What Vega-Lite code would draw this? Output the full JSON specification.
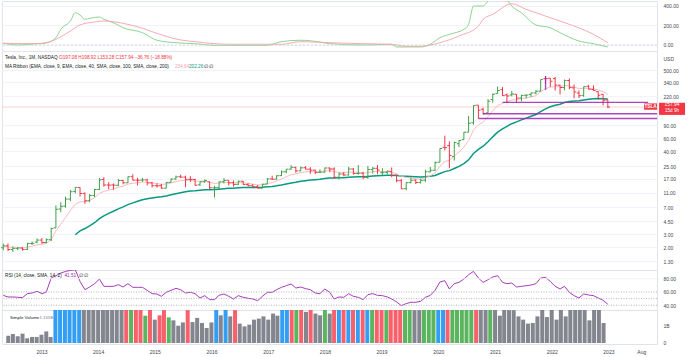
{
"$schema":"https://vega.github.io/schema/vega-lite/v6.json",
"padding":0,"spacing":0,"bounds":"flush","background":"white",
"resolve":{"scale":{"color":"independent"}},
"config":{"view":{"stroke":"#e0e3eb","strokeWidth":1},
"axis":{"labelFont":"Liberation Sans","labelFontSize":5,"labelColor":"#434651","domain":false,"ticks":false,"labelPadding":6,"title":null,"labelOverlap":false},
"text":{"font":"Liberation Sans","fontSize":4.7,"align":"left","baseline":"middle"}},
"datasets":{
"one":[{}],
"m":[
{"d":"2012-06-01","o":1.97,"h":2.25,"l":1.82,"c":2.09,"e9":2.05,"rsi":55,"vol":0.42,"kind":"base"},
{"d":"2012-07-01","o":2.09,"h":2.25,"l":1.78,"c":1.86,"e9":2.01,"rsi":52.5,"vol":0.52,"kind":"base"},
{"d":"2012-08-01","o":1.86,"h":2.05,"l":1.73,"c":1.93,"e9":2.0,"rsi":52.5,"vol":0.39,"kind":"base"},
{"d":"2012-09-01","o":1.93,"h":2.0,"l":1.82,"c":1.95,"e9":1.99,"rsi":52,"vol":0.54,"kind":"base"},
{"d":"2012-10-01","o":1.95,"h":2.0,"l":1.8,"c":1.87,"e9":1.96,"rsi":51.5,"vol":0.27,"kind":"base"},
{"d":"2012-11-01","o":1.87,"h":2.3,"l":1.84,"c":2.25,"e9":2.02,"rsi":57.5,"vol":0.35,"kind":"base"},
{"d":"2012-12-01","o":2.25,"h":2.4,"l":2.15,"c":2.26,"e9":2.07,"rsi":58.5,"vol":0.35,"kind":"base"},
{"d":"2013-01-01","o":2.35,"h":2.63,"l":2.26,"c":2.5,"e9":2.15,"rsi":61,"vol":0.48,"kind":"base"},
{"d":"2013-02-01","o":2.5,"h":2.67,"l":2.23,"c":2.32,"e9":2.19,"rsi":57.5,"vol":0.67,"kind":"base"},
{"d":"2013-03-01","o":2.32,"h":2.63,"l":2.26,"c":2.53,"e9":2.26,"rsi":60,"vol":0.35,"kind":"base"},
{"d":"2013-04-01","o":2.53,"h":3.67,"l":2.43,"c":3.59,"e9":2.52,"rsi":81,"vol":3.0,"kind":"alert"},
{"d":"2013-05-01","o":3.66,"h":7.35,"l":3.64,"c":6.52,"e9":3.32,"rsi":84.5,"vol":8.0,"kind":"alert"},
{"d":"2013-06-01","o":6.6,"h":8.14,"l":5.95,"c":7.16,"e9":4.09,"rsi":88.5,"vol":5.0,"kind":"alert"},
{"d":"2013-07-01","o":7.21,"h":9.64,"l":6.85,"c":8.95,"e9":5.06,"rsi":91,"vol":5.5,"kind":"alert"},
{"d":"2013-08-01","o":8.97,"h":11.87,"l":8.4,"c":11.27,"e9":6.3,"rsi":92.5,"vol":6.0,"kind":"alert"},
{"d":"2013-09-01","o":11.4,"h":12.97,"l":10.7,"c":12.9,"e9":7.62,"e40":2.95,"rsi":93.5,"vol":6.5,"kind":"alert"},
{"d":"2013-10-01","o":12.9,"h":12.99,"l":9.7,"c":10.66,"e9":8.23,"e40":3.33,"rsi":76,"vol":6.0,"kind":"base"},
{"d":"2013-11-01","o":10.7,"h":11.0,"l":7.73,"c":8.49,"e9":8.28,"e40":3.58,"rsi":63.5,"vol":4.5,"kind":"base"},
{"d":"2013-12-01","o":8.5,"h":10.5,"l":8.13,"c":10.03,"e9":8.63,"e40":3.89,"rsi":67.5,"vol":3.0,"kind":"base"},
{"d":"2014-01-01","o":10.0,"h":12.35,"l":9.5,"c":12.09,"e9":9.32,"e40":4.29,"rsi":72.5,"vol":3.5,"kind":"base"},
{"d":"2014-02-01","o":12.1,"h":17.3,"l":11.9,"c":16.32,"e9":10.72,"e40":4.88,"rsi":79.5,"vol":6.0,"kind":"base"},
{"d":"2014-03-01","o":16.5,"h":17.7,"l":13.2,"c":13.9,"e9":11.36,"e40":5.32,"rsi":68.5,"vol":5.5,"kind":"base"},
{"d":"2014-04-01","o":13.9,"h":15.2,"l":12.2,"c":13.86,"e9":11.86,"e40":5.74,"rsi":68.5,"vol":4.0,"kind":"base"},
{"d":"2014-05-01","o":13.9,"h":14.6,"l":12.0,"c":13.85,"e9":12.26,"e40":6.13,"rsi":68.5,"vol":3.0,"kind":"base"},
{"d":"2014-06-01","o":13.8,"h":16.8,"l":13.4,"c":16.0,"e9":13.0,"e40":6.61,"rsi":71,"vol":2.5,"kind":"base"},
{"d":"2014-07-01","o":16.0,"h":16.3,"l":14.2,"c":14.89,"e9":13.38,"e40":7.02,"rsi":67.5,"vol":2.2,"kind":"down"},
{"d":"2014-08-01","o":14.9,"h":18.2,"l":14.8,"c":17.98,"e9":14.3,"e40":7.55,"rsi":72.5,"vol":2.0,"kind":"up"},
{"d":"2014-09-01","o":18.0,"h":19.44,"l":16.0,"c":16.18,"e9":14.68,"e40":7.97,"rsi":67,"vol":2.6,"kind":"down"},
{"d":"2014-10-01","o":16.2,"h":17.4,"l":13.7,"c":16.11,"e9":14.96,"e40":8.37,"rsi":67,"vol":2.5,"kind":"down"},
{"d":"2014-11-01","o":16.2,"h":17.4,"l":15.4,"c":16.3,"e9":15.23,"e40":8.76,"rsi":67,"vol":1.58,"kind":"up"},
{"d":"2014-12-01","o":16.3,"h":16.9,"l":13.7,"c":14.83,"e9":15.15,"e40":9.05,"rsi":62.5,"vol":2.0,"kind":"down"},
{"d":"2015-01-01","o":14.86,"h":15.3,"l":12.9,"c":13.57,"e9":14.84,"e40":9.27,"rsi":57.5,"vol":1.35,"kind":"base"},
{"d":"2015-02-01","o":13.6,"h":14.6,"l":12.8,"c":13.55,"e9":14.58,"e40":9.48,"rsi":57,"vol":1.6,"kind":"down"},
{"d":"2015-03-01","o":13.6,"h":14.4,"l":12.3,"c":12.58,"e9":14.18,"e40":9.63,"rsi":53.5,"vol":1.9,"kind":"down"},
{"d":"2015-04-01","o":12.6,"h":15.3,"l":12.5,"c":15.07,"e9":14.36,"e40":9.9,"rsi":59.5,"vol":1.48,"kind":"up"},
{"d":"2015-05-01","o":15.1,"h":17.0,"l":15.0,"c":16.72,"e9":14.83,"e40":10.23,"rsi":62.5,"vol":1.31,"kind":"base"},
{"d":"2015-06-01","o":16.8,"h":18.6,"l":16.4,"c":17.89,"e9":15.44,"e40":10.61,"rsi":65.5,"vol":1.0,"kind":"base"},
{"d":"2015-07-01","o":18.0,"h":19.2,"l":17.4,"c":17.75,"e9":15.9,"e40":10.95,"rsi":63.5,"vol":1.19,"kind":"base"},
{"d":"2015-08-01","o":17.8,"h":18.6,"l":13.0,"c":16.61,"e9":16.04,"e40":11.23,"rsi":58.5,"vol":1.9,"kind":"down"},
{"d":"2015-09-01","o":16.6,"h":18.3,"l":15.3,"c":16.56,"e9":16.15,"e40":11.49,"rsi":59.5,"vol":1.21,"kind":"base"},
{"d":"2015-10-01","o":16.5,"h":16.9,"l":13.6,"c":13.8,"e9":15.68,"e40":11.6,"rsi":57.5,"vol":1.45,"kind":"base"},
{"d":"2015-11-01","o":14.0,"h":15.5,"l":13.5,"c":15.35,"e9":15.61,"e40":11.79,"rsi":51,"vol":1.16,"kind":"base"},
{"d":"2015-12-01","o":15.4,"h":16.5,"l":14.8,"c":16.0,"e9":15.69,"e40":11.99,"rsi":54.5,"vol":0.87,"kind":"base"},
{"d":"2016-01-01","o":15.4,"h":15.4,"l":12.3,"c":12.75,"e9":15.1,"e40":12.03,"rsi":48.5,"vol":1.19,"kind":"base"},
{"d":"2016-02-01","o":12.7,"h":13.6,"l":9.4,"c":12.79,"e9":14.64,"e40":12.07,"rsi":48.5,"vol":2.2,"kind":"alert"},
{"d":"2016-03-01","o":12.8,"h":15.6,"l":12.3,"c":15.32,"e9":14.78,"e40":12.22,"rsi":55,"vol":1.6,"kind":"base"},
{"d":"2016-04-01","o":15.4,"h":17.2,"l":14.6,"c":16.05,"e9":15.03,"e40":12.41,"rsi":57,"vol":2.0,"kind":"alert"},
{"d":"2016-05-01","o":16.1,"h":16.1,"l":13.7,"c":14.88,"e9":15.0,"e40":12.53,"rsi":53.5,"vol":1.54,"kind":"base"},
{"d":"2016-06-01","o":14.9,"h":16.0,"l":13.2,"c":14.15,"e9":14.83,"e40":12.61,"rsi":49.5,"vol":1.9,"kind":"down"},
{"d":"2016-07-01","o":14.2,"h":15.9,"l":13.9,"c":15.65,"e9":15.0,"e40":12.76,"rsi":54.5,"vol":1.12,"kind":"base"},
{"d":"2016-08-01","o":15.6,"h":15.8,"l":14.0,"c":14.13,"e9":14.82,"e40":12.83,"rsi":52,"vol":0.96,"kind":"base"},
{"d":"2016-09-01","o":14.1,"h":14.7,"l":13.3,"c":13.6,"e9":14.58,"e40":12.86,"rsi":50.5,"vol":1.06,"kind":"base"},
{"d":"2016-10-01","o":13.6,"h":14.3,"l":13.0,"c":13.18,"e9":14.3,"e40":12.88,"rsi":49.5,"vol":1.35,"kind":"base"},
{"d":"2016-11-01","o":13.2,"h":13.9,"l":12.5,"c":12.63,"e9":13.96,"e40":12.87,"rsi":47,"vol":1.41,"kind":"base"},
{"d":"2016-12-01","o":12.6,"h":14.5,"l":12.5,"c":14.25,"e9":14.02,"e40":12.93,"rsi":53.5,"vol":1.54,"kind":"base"},
{"d":"2017-01-01","o":14.3,"h":17.3,"l":14.2,"c":16.79,"e9":14.58,"e40":13.12,"rsi":59.5,"vol":1.35,"kind":"base"},
{"d":"2017-02-01","o":16.8,"h":18.6,"l":16.4,"c":16.67,"e9":14.99,"e40":13.3,"rsi":59.5,"vol":1.7,"kind":"base"},
{"d":"2017-03-01","o":16.7,"h":18.8,"l":16.4,"c":18.55,"e9":15.71,"e40":13.55,"rsi":63.5,"vol":1.58,"kind":"base"},
{"d":"2017-04-01","o":18.6,"h":21.9,"l":18.4,"c":20.93,"e9":16.75,"e40":13.91,"rsi":67,"vol":2.0,"kind":"alert"},
{"d":"2017-05-01","o":21.0,"h":22.9,"l":20.1,"c":22.73,"e9":17.95,"e40":14.34,"rsi":69.5,"vol":2.2,"kind":"alert"},
{"d":"2017-06-01","o":22.8,"h":25.9,"l":22.5,"c":24.11,"e9":19.18,"e40":14.82,"rsi":72,"vol":2.5,"kind":"down"},
{"d":"2017-07-01","o":24.1,"h":24.6,"l":20.4,"c":21.57,"e9":19.66,"e40":15.15,"rsi":66,"vol":2.0,"kind":"up"},
{"d":"2017-08-01","o":21.6,"h":24.7,"l":21.4,"c":23.73,"e9":20.47,"e40":15.57,"rsi":67.5,"vol":2.2,"kind":"down"},
{"d":"2017-09-01","o":23.8,"h":25.1,"l":22.6,"c":22.74,"e9":20.93,"e40":15.92,"rsi":65,"vol":1.8,"kind":"base"},
{"d":"2017-10-01","o":22.8,"h":24.2,"l":19.8,"c":22.1,"e9":21.16,"e40":16.22,"rsi":63.5,"vol":2.0,"kind":"down"},
{"d":"2017-11-01","o":22.1,"h":22.4,"l":19.5,"c":20.59,"e9":21.05,"e40":16.43,"rsi":58.5,"vol":1.7,"kind":"base"},
{"d":"2017-12-01","o":20.6,"h":22.7,"l":20.2,"c":20.76,"e9":20.99,"e40":16.64,"rsi":57.5,"vol":1.6,"kind":"base"},
{"d":"2018-01-01","o":20.8,"h":24.0,"l":20.3,"c":23.62,"e9":21.52,"e40":16.98,"rsi":64.5,"vol":2.0,"kind":"up"},
{"d":"2018-02-01","o":23.6,"h":24.0,"l":20.7,"c":22.87,"e9":21.79,"e40":17.27,"rsi":59.5,"vol":1.7,"kind":"base"},
{"d":"2018-03-01","o":22.9,"h":24.1,"l":16.9,"c":17.74,"e9":20.98,"e40":17.29,"rsi":49.5,"vol":2.5,"kind":"down"},
{"d":"2018-04-01","o":17.7,"h":20.5,"l":16.5,"c":19.59,"e9":20.7,"e40":17.4,"rsi":52.5,"vol":2.2,"kind":"alert"},
{"d":"2018-05-01","o":19.6,"h":20.9,"l":18.2,"c":18.98,"e9":20.36,"e40":17.48,"rsi":52,"vol":2.0,"kind":"down"},
{"d":"2018-06-01","o":19.0,"h":24.5,"l":18.7,"c":22.86,"e9":20.86,"e40":17.74,"rsi":57.5,"vol":2.5,"kind":"alert"},
{"d":"2018-07-01","o":22.9,"h":23.5,"l":19.2,"c":19.87,"e9":20.66,"e40":17.85,"rsi":53.5,"vol":2.5,"kind":"down"},
{"d":"2018-08-01","o":19.9,"h":25.9,"l":19.2,"c":20.11,"e9":20.55,"e40":17.96,"rsi":52,"vol":3.0,"kind":"alert"},
{"d":"2018-09-01","o":20.2,"h":20.9,"l":16.6,"c":17.65,"e9":19.97,"e40":17.94,"rsi":48.5,"vol":2.6,"kind":"down"},
{"d":"2018-10-01","o":17.6,"h":25.2,"l":16.8,"c":22.49,"e9":20.47,"e40":18.16,"rsi":56,"vol":2.8,"kind":"alert"},
{"d":"2018-11-01","o":22.5,"h":24.5,"l":19.9,"c":23.37,"e9":21.05,"e40":18.42,"rsi":57.5,"vol":2.2,"kind":"up"},
{"d":"2018-12-01","o":23.4,"h":25.9,"l":19.4,"c":22.19,"e9":21.28,"e40":18.6,"rsi":55,"vol":2.4,"kind":"down"},
{"d":"2019-01-01","o":20.4,"h":23.5,"l":19.1,"c":20.47,"e9":21.12,"e40":18.69,"rsi":54.5,"vol":2.0,"kind":"down"},
{"d":"2019-02-01","o":20.6,"h":21.9,"l":19.4,"c":21.33,"e9":21.16,"e40":18.82,"rsi":52.5,"vol":1.9,"kind":"up"},
{"d":"2019-03-01","o":21.1,"h":24.0,"l":17.7,"c":18.66,"e9":20.66,"e40":18.81,"rsi":49.5,"vol":2.3,"kind":"down"},
{"d":"2019-04-01","o":18.9,"h":19.2,"l":15.2,"c":15.91,"e9":19.71,"e40":18.67,"rsi":45,"vol":2.6,"kind":"down"},
{"d":"2019-05-01","o":15.9,"h":16.8,"l":12.3,"c":12.35,"e9":18.24,"e40":18.36,"rsi":39.5,"vol":3.5,"kind":"down"},
{"d":"2019-06-01","o":12.4,"h":15.1,"l":11.8,"c":14.9,"e9":17.57,"e40":18.2,"rsi":42.5,"vol":2.4,"kind":"up"},
{"d":"2019-07-01","o":15.0,"h":17.6,"l":14.6,"c":16.11,"e9":17.28,"e40":18.09,"rsi":44.5,"vol":2.3,"kind":"up"},
{"d":"2019-08-01","o":16.2,"h":16.6,"l":14.3,"c":15.04,"e9":16.83,"e40":17.94,"rsi":44.5,"vol":1.9,"kind":"base"},
{"d":"2019-09-01","o":15.0,"h":16.9,"l":14.6,"c":16.06,"e9":16.68,"e40":17.85,"rsi":46,"vol":1.9,"kind":"base"},
{"d":"2019-10-01","o":16.2,"h":22.3,"l":15.3,"c":20.99,"e9":17.54,"e40":18.0,"rsi":52,"vol":2.6,"kind":"up"},
{"d":"2019-11-01","o":21.0,"h":24.4,"l":20.6,"c":21.99,"e9":18.43,"e40":18.2,"rsi":55,"vol":2.3,"kind":"up"},
{"d":"2019-12-01","o":22.0,"h":29.0,"l":21.6,"c":27.89,"e9":20.32,"e40":18.67,"rsi":62.5,"vol":2.8,"kind":"up"},
{"d":"2020-01-01","o":28.3,"h":43.5,"l":28.2,"c":43.37,"e9":24.93,"e40":19.88,"rsi":75,"vol":6.0,"kind":"alert"},
{"d":"2020-02-01","o":44.9,"h":64.6,"l":40.8,"c":44.53,"e9":28.85,"e40":21.08,"rsi":77,"vol":5.0,"kind":"alert"},
{"d":"2020-03-01","o":47.4,"h":54.0,"l":23.37,"c":34.93,"e9":30.07,"e40":21.76,"rsi":64.5,"vol":5.5,"kind":"down"},
{"d":"2020-04-01","o":33.6,"h":53.8,"l":29.8,"c":52.13,"e9":34.48,"e40":23.24,"rsi":72.5,"vol":4.0,"kind":"up"},
{"d":"2020-05-01","o":50.3,"h":56.3,"l":45.3,"c":55.67,"e9":38.72,"e40":24.82,"rsi":74.5,"vol":3.0,"kind":"up"},
{"d":"2020-06-01","o":57.2,"h":72.6,"l":57.0,"c":71.99,"e9":45.37,"e40":27.12,"rsi":79.5,"vol":3.5,"kind":"up"},
{"d":"2020-07-01","o":72.2,"h":119.67,"l":72.0,"c":95.38,"e9":55.37,"e40":30.45,"rsi":86,"vol":5.0,"kind":"up"},
{"d":"2020-08-01","o":96.6,"h":166.7,"l":91.0,"c":166.1,"e9":77.52,"e40":37.07,"rsi":91,"vol":4.5,"kind":"up"},
{"d":"2020-09-01","o":167.4,"h":167.5,"l":109.96,"c":143.0,"e9":90.62,"e40":42.24,"rsi":81,"vol":3.5,"kind":"down"},
{"d":"2020-10-01","o":147.2,"h":154.7,"l":124.0,"c":129.35,"e9":98.36,"e40":46.49,"rsi":74.5,"vol":2.5,"kind":"base"},
{"d":"2020-11-01","o":131.3,"h":202.6,"l":131.2,"c":189.2,"e9":116.53,"e40":53.45,"rsi":78.5,"vol":3.0,"kind":"base"},
{"d":"2020-12-01","o":199.2,"h":239.6,"l":180.4,"c":235.22,"e9":140.27,"e40":62.31,"rsi":82.5,"vol":3.2,"kind":"up"},
{"d":"2021-01-01","o":239.8,"h":300.1,"l":239.1,"c":264.5,"e9":165.12,"e40":72.18,"rsi":84.5,"vol":2.2,"kind":"base"},
{"d":"2021-02-01","o":271.4,"h":293.5,"l":223.0,"c":225.17,"e9":177.13,"e40":79.64,"rsi":74.5,"vol":1.58,"kind":"base"},
{"d":"2021-03-01","o":230.0,"h":240.4,"l":179.8,"c":222.64,"e9":186.23,"e40":86.62,"rsi":72.5,"vol":2.7,"kind":"base"},
{"d":"2021-04-01","o":229.5,"h":260.3,"l":219.8,"c":236.48,"e9":196.28,"e40":93.93,"rsi":73.5,"vol":1.9,"kind":"base"},
{"d":"2021-05-01","o":234.6,"h":235.3,"l":182.3,"c":208.41,"e9":198.71,"e40":99.51,"rsi":67.5,"vol":1.9,"kind":"base"},
{"d":"2021-06-01","o":209.3,"h":232.5,"l":187.8,"c":226.57,"e9":204.28,"e40":105.71,"rsi":68.5,"vol":1.54,"kind":"base"},
{"d":"2021-07-01","o":228.0,"h":233.3,"l":206.8,"c":229.07,"e9":209.24,"e40":111.73,"rsi":69.5,"vol":1.35,"kind":"base"},
{"d":"2021-08-01","o":233.3,"h":246.8,"l":216.3,"c":245.24,"e9":216.44,"e40":118.24,"rsi":70.5,"vol":1.12,"kind":"base"},
{"d":"2021-09-01","o":244.7,"h":266.3,"l":234.1,"c":258.49,"e9":224.85,"e40":125.08,"rsi":72.5,"vol":1.16,"kind":"base"},
{"d":"2021-10-01","o":258.7,"h":371.7,"l":257.1,"c":371.33,"e9":254.15,"e40":137.09,"rsi":81,"vol":1.54,"kind":"base"},
{"d":"2021-11-01","o":381.7,"h":414.5,"l":326.2,"c":381.59,"e9":279.64,"e40":149.02,"rsi":82,"vol":2.2,"kind":"base"},
{"d":"2021-12-01","o":386.9,"h":390.9,"l":295.4,"c":352.26,"e9":294.16,"e40":158.93,"rsi":76,"vol":1.5,"kind":"base"},
{"d":"2022-01-01","o":382.6,"h":402.7,"l":264.0,"c":312.24,"e9":297.78,"e40":166.41,"rsi":68.5,"vol":2.2,"kind":"base"},
{"d":"2022-02-01","o":311.7,"h":315.9,"l":233.3,"c":290.14,"e9":296.25,"e40":172.45,"rsi":64.5,"vol":1.35,"kind":"base"},
{"d":"2022-03-01","o":289.9,"h":371.6,"l":265.2,"c":359.2,"e9":308.84,"e40":181.56,"rsi":68.5,"vol":2.2,"kind":"base"},
{"d":"2022-04-01","o":360.4,"h":384.3,"l":273.9,"c":290.25,"e9":305.12,"e40":186.86,"rsi":59.5,"vol":1.54,"kind":"base"},
{"d":"2022-05-01","o":286.9,"h":318.5,"l":206.9,"c":252.75,"e9":294.65,"e40":190.07,"rsi":54.5,"vol":2.2,"kind":"base"},
{"d":"2022-06-01","o":244.0,"h":264.2,"l":208.7,"c":224.47,"e9":280.61,"e40":191.75,"rsi":51,"vol":2.2,"kind":"base"},
{"d":"2022-07-01","o":227.0,"h":298.3,"l":216.2,"c":297.15,"e9":283.92,"e40":196.89,"rsi":57,"vol":2.2,"kind":"base"},
{"d":"2022-08-01","o":301.3,"h":314.7,"l":271.8,"c":275.61,"e9":282.26,"e40":200.73,"rsi":55.5,"vol":2.2,"kind":"base"},
{"d":"2022-09-01","o":272.6,"h":310.0,"l":262.5,"c":265.25,"e9":278.86,"e40":203.88,"rsi":54.5,"vol":1.31,"kind":"base"},
{"d":"2022-10-01","o":254.5,"h":257.5,"l":198.6,"c":227.54,"e9":268.59,"e40":205.03,"rsi":51,"vol":2.2,"kind":"base"},
{"d":"2022-11-01","o":234.1,"h":237.4,"l":166.2,"c":194.7,"e9":253.81,"e40":204.53,"rsi":47.5,"vol":2.2,"kind":"base"},
{"d":"2022-12-01","o":197.08,"h":198.92,"l":153.28,"c":157.94,"e9":234.64,"e40":202.26,"rsi":41.51,"vol":1.155,"kind":"base"}
],
"osc":[
{"d":"2012-06-01","s":"fast","val":17},{"d":"2012-09-01","s":"fast","val":0},{"d":"2013-01-01","s":"fast","val":13},{"d":"2013-03-01","s":"fast","val":23},{"d":"2013-05-01","s":"fast","val":74},{"d":"2013-06-01","s":"fast","val":159},{"d":"2013-08-01","s":"fast","val":243},{"d":"2013-09-01","s":"fast","val":327},{"d":"2013-10-01","s":"fast","val":304},{"d":"2013-11-01","s":"fast","val":260},{"d":"2013-12-01","s":"fast","val":270},{"d":"2014-02-01","s":"fast","val":284},{"d":"2014-03-01","s":"fast","val":260},{"d":"2014-05-01","s":"fast","val":226},{"d":"2014-07-01","s":"fast","val":175},{"d":"2014-11-01","s":"fast","val":125},{"d":"2015-02-01","s":"fast","val":48},{"d":"2015-06-01","s":"fast","val":23},{"d":"2015-10-01","s":"fast","val":13},{"d":"2016-02-01","s":"fast","val":-3},{"d":"2016-06-01","s":"fast","val":-3},{"d":"2017-01-01","s":"fast","val":-3},{"d":"2017-04-01","s":"fast","val":34},{"d":"2017-08-01","s":"fast","val":48},{"d":"2017-12-01","s":"fast","val":30},{"d":"2018-02-01","s":"fast","val":13},{"d":"2018-09-01","s":"fast","val":0},{"d":"2019-03-01","s":"fast","val":7},{"d":"2019-04-01","s":"fast","val":-20},{"d":"2019-09-01","s":"fast","val":-20},{"d":"2019-11-01","s":"fast","val":7},{"d":"2020-01-01","s":"fast","val":74},{"d":"2020-03-01","s":"fast","val":108},{"d":"2020-06-01","s":"fast","val":159},{"d":"2020-07-01","s":"fast","val":210},{"d":"2020-08-01","s":"fast","val":395},{"d":"2020-10-01","s":"fast","val":395},{"d":"2020-11-01","s":"fast","val":446},{"d":"2021-01-01","s":"fast","val":560},{"d":"2021-03-01","s":"fast","val":460},{"d":"2021-04-01","s":"fast","val":395},{"d":"2021-06-01","s":"fast","val":327},{"d":"2021-09-01","s":"fast","val":203},{"d":"2021-12-01","s":"fast","val":175},{"d":"2022-02-01","s":"fast","val":125},{"d":"2022-06-01","s":"fast","val":40},{"d":"2022-09-01","s":"fast","val":13},{"d":"2022-12-01","s":"fast","val":-20},
{"d":"2012-06-01","s":"slow","val":17},{"d":"2013-02-01","s":"slow","val":13},{"d":"2013-05-01","s":"slow","val":58},{"d":"2013-08-01","s":"slow","val":142},{"d":"2013-10-01","s":"slow","val":203},{"d":"2014-01-01","s":"slow","val":233},{"d":"2014-03-01","s":"slow","val":243},{"d":"2014-05-01","s":"slow","val":236},{"d":"2014-08-01","s":"slow","val":209},{"d":"2014-11-01","s":"slow","val":169},{"d":"2015-02-01","s":"slow","val":118},{"d":"2015-05-01","s":"slow","val":74},{"d":"2015-07-01","s":"slow","val":51},{"d":"2015-10-01","s":"slow","val":34},{"d":"2016-02-01","s":"slow","val":13},{"d":"2016-06-01","s":"slow","val":7},{"d":"2017-04-01","s":"slow","val":7},{"d":"2017-08-01","s":"slow","val":34},{"d":"2018-02-01","s":"slow","val":23},{"d":"2018-09-01","s":"slow","val":13},{"d":"2019-03-01","s":"slow","val":7},{"d":"2019-06-01","s":"slow","val":-13},{"d":"2019-09-01","s":"slow","val":-13},{"d":"2020-01-01","s":"slow","val":23},{"d":"2020-05-01","s":"slow","val":91},{"d":"2020-09-01","s":"slow","val":192},{"d":"2020-10-01","s":"slow","val":260},{"d":"2020-12-01","s":"slow","val":311},{"d":"2021-04-01","s":"slow","val":418},{"d":"2021-07-01","s":"slow","val":361},{"d":"2022-02-01","s":"slow","val":243},{"d":"2022-09-01","s":"slow","val":108},{"d":"2022-12-01","s":"slow","val":23}
],
"anno":[
{"d1":"2021-02-01","d2":"2023-08-14","p1":182.6,"p2":182.6},
{"d1":"2020-10-01","d2":"2023-10-09","p1":128,"p2":128},
{"d1":"2020-09-01","d2":"2023-10-09","p1":110.5,"p2":110.5},
{"d1":"2021-11-01","d2":"2021-11-01","p1":268,"p2":415}
]},
"vconcat":[
{"width":655,"height":50,
"layer":[
{"data":{"name":"osc"},"mark":{"type":"line","clip":true,"strokeWidth":0.9,"interpolate":"monotone"},
"encoding":{
"x":{"field":"d","type":"temporal","scale":{"type":"utc","domain":[{"year":2012,"month":5,"date":24,"utc":true},{"year":2023,"month":10,"date":9,"utc":true}]},"axis":null},
"y":{"field":"val","type":"quantitative","scale":{"domain":[-61,446],"nice":false,"zero":false},
"axis":{"orient":"right","tickCount":3,"format":".2f","grid":true,"gridColor":"#f0f3fa","labelOverlap":false}},
"color":{"field":"s","type":"nominal","scale":{"domain":["fast","slow"],"range":["#7fcf86","#f7a1a8"]},"legend":null}}},
{"data":{"name":"one"},"mark":{"type":"rule","color":"#c9ccd4","strokeWidth":0.8,"strokeDash":[2,2]},
"encoding":{"y":{"datum":0,"type":"quantitative"}}}
]},
{"width":655,"height":219,"data":{"name":"m"},
"layer":[
{"data":{"name":"one"},"mark":{"type":"rule","color":"#f8c7c9","strokeWidth":0.8},
"encoding":{"y":{"datum":157.94,"type":"quantitative","scale":{"type":"log","domain":[0.984,904],"nice":false,"zero":false},
"axis":{"orient":"right","values":[1.3,2,3,4.5,7,11,17,25,40,60,90,220,340,500],"tickCount":20,"format":".2f","grid":true,"gridColor":"#f0f3fa","title":"USD","titleAngle":0,"titleAlign":"left","titleBaseline":"middle","titleX":6,"titleY":7,"titleFont":"Liberation Sans","titleFontSize":5,"titleFontWeight":"normal","titleColor":"#434651"}}}},
{"transform":[{"filter":"datum.e40 != null"}],
"mark":{"type":"line","color":"#089981","strokeWidth":1.5},
"encoding":{"x":{"field":"d","type":"temporal","scale":{"type":"utc","domain":[{"year":2012,"month":5,"date":24,"utc":true},{"year":2023,"month":10,"date":9,"utc":true}]},"axis":null},
"y":{"field":"e40","type":"quantitative"}}},
{"mark":{"type":"line","color":"#f7b3b7","strokeWidth":0.9},
"encoding":{"x":{"field":"d","type":"temporal"},"y":{"field":"e9","type":"quantitative"}}},
{"mark":{"type":"rule","strokeWidth":1},
"encoding":{"x":{"field":"d","type":"temporal"},"y":{"field":"l","type":"quantitative"},"y2":{"field":"h"},
"color":{"condition":{"test":"datum.c >= datum.o","value":"#43a047"},"value":"#f23645"}}},
{"mark":{"type":"tick","orient":"horizontal","size":2.2,"thickness":1,"xOffset":-1.1,"opacity":1},
"encoding":{"x":{"field":"d","type":"temporal"},"y":{"field":"o","type":"quantitative"},
"color":{"condition":{"test":"datum.c >= datum.o","value":"#43a047"},"value":"#f23645"}}},
{"mark":{"type":"tick","orient":"horizontal","size":2.2,"thickness":1,"xOffset":1.1,"opacity":1},
"encoding":{"x":{"field":"d","type":"temporal"},"y":{"field":"c","type":"quantitative"},
"color":{"condition":{"test":"datum.c >= datum.o","value":"#43a047"},"value":"#f23645"}}},
{"data":{"name":"anno"},"mark":{"type":"rule","color":"#9c27b0","strokeWidth":1.4,"opacity":0.85},
"encoding":{"x":{"field":"d1","type":"temporal"},"x2":{"field":"d2"},"y":{"field":"p1","type":"quantitative"},"y2":{"field":"p2"}}},
{"data":{"name":"one"},"mark":{"type":"rect","color":"#f23645"},
"encoding":{"x":{"datum":{"year":2023,"month":7,"date":19,"utc":true},"type":"temporal"},"x2":{"datum":{"year":2023,"month":10,"date":9,"utc":true}},"y":{"datum":145.1,"type":"quantitative"},"y2":{"datum":176.6}}},
{"data":{"name":"one"},"mark":{"type":"text","color":"white","align":"center","fontSize":4.6,"fontWeight":"bold"},
"encoding":{"x":{"datum":{"year":2023,"month":8,"date":29,"utc":true},"type":"temporal"},"y":{"datum":159.2,"type":"quantitative"},"text":{"value":"TSLA"}}},
{"data":{"name":"one"},"mark":{"type":"rect","color":"#f23645"},
"encoding":{"x":{"datum":{"year":2023,"month":10,"date":22,"utc":true},"type":"temporal"},"x2":{"datum":{"year":2024,"month":4,"date":4,"utc":true}},"y":{"datum":123.5,"type":"quantitative"},"y2":{"datum":180.1}}},
{"data":{"name":"one"},"mark":{"type":"text","color":"white","align":"center","fontSize":4.9},
"encoding":{"x":{"datum":{"year":2024,"month":1,"date":12,"utc":true},"type":"temporal"},"y":{"datum":167.3,"type":"quantitative"},"text":{"value":"157.94"}}},
{"data":{"name":"one"},"mark":{"type":"text","color":"white","align":"center","fontSize":4.6},
"encoding":{"x":{"datum":{"year":2024,"month":1,"date":12,"utc":true},"type":"temporal"},"y":{"datum":137.3,"type":"quantitative"},"text":{"value":"15d 9h"}}},
{"data":{"name":"one"},"mark":{"type":"text","color":"#131722"},
"encoding":{"x":{"datum":{"year":2012,"month":6,"date":12,"utc":true},"type":"temporal"},"y":{"datum":727,"type":"quantitative"},"text":{"value":"Tesla, Inc., 1M, NASDAQ"}}},
{"data":{"name":"one"},"mark":{"type":"text","color":"#f23645"},
"encoding":{"x":{"datum":{"year":2013,"month":5,"date":21,"utc":true},"type":"temporal"},"y":{"datum":727,"type":"quantitative"},"text":{"value":"O197.08 H198.92 L153.28 C157.94 −36.76 (−18.88%)"}}},
{"data":{"name":"one"},"mark":{"type":"text","color":"#131722"},
"encoding":{"x":{"datum":{"year":2012,"month":6,"date":12,"utc":true},"type":"temporal"},"y":{"datum":548,"type":"quantitative"},"text":{"value":"MA Ribbon (EMA, close, 9, EMA, close, 40, SMA, close, 100, SMA, close, 200)"}}},
{"data":{"name":"one"},"mark":{"type":"text","color":"#f7a1a8"},
"encoding":{"x":{"datum":{"year":2015,"month":5,"date":26,"utc":true},"type":"temporal"},"y":{"datum":548,"type":"quantitative"},"text":{"value":"234.64"}}},
{"data":{"name":"one"},"mark":{"type":"text","color":"#089981"},
"encoding":{"x":{"datum":{"year":2015,"month":8,"date":23,"utc":true},"type":"temporal"},"y":{"datum":548,"type":"quantitative"},"text":{"value":"202.26"}}},
{"data":{"name":"one"},"mark":{"type":"text","color":"#131722"},
"encoding":{"x":{"datum":{"year":2015,"month":11,"date":26,"utc":true},"type":"temporal"},"y":{"datum":548,"type":"quantitative"},"text":{"value":"∅ ∅"}}}
]},
{"width":655,"height":40,
"layer":[
{"data":{"name":"m"},"mark":{"type":"line","color":"#9c27b0","strokeWidth":0.9,"clip":true},
"encoding":{"x":{"field":"d","type":"temporal","scale":{"type":"utc","domain":[{"year":2012,"month":5,"date":24,"utc":true},{"year":2023,"month":10,"date":9,"utc":true}]},"axis":null},
"y":{"field":"rsi","type":"quantitative","scale":{"domain":[32.9,93.1],"nice":false,"zero":false},
"axis":{"orient":"right","values":[40,60,80],"tickCount":10,"format":".2f","grid":false,"labelOverlap":false}}}},
{"data":{"name":"one"},"mark":{"type":"rule","color":"#eef0f5","strokeWidth":0.8},
"encoding":{"y":{"datum":80,"type":"quantitative"}}},
{"data":{"name":"one"},"mark":{"type":"rule","color":"#a3a6af","strokeWidth":0.8,"strokeDash":[1,1.5]},
"encoding":{"y":{"datum":60,"type":"quantitative"}}},
{"data":{"name":"one"},"mark":{"type":"rule","color":"#a3a6af","strokeWidth":0.8,"strokeDash":[1,1.5]},
"encoding":{"y":{"datum":50,"type":"quantitative"}}},
{"data":{"name":"one"},"mark":{"type":"rule","color":"#a3a6af","strokeWidth":0.8,"strokeDash":[1,1.5]},
"encoding":{"y":{"datum":40,"type":"quantitative"}}},
{"data":{"name":"one"},"mark":{"type":"text","color":"#131722"},
"encoding":{"x":{"datum":{"year":2012,"month":6,"date":12,"utc":true},"type":"temporal"},"y":{"datum":84,"type":"quantitative"},"text":{"value":"RSI (14, close, SMA, 14, 2)"}}},
{"data":{"name":"one"},"mark":{"type":"text","color":"#9c27b0"},
"encoding":{"x":{"datum":{"year":2013,"month":6,"date":24,"utc":true},"type":"temporal"},"y":{"datum":84,"type":"quantitative"},"text":{"value":"41.51"}}},
{"data":{"name":"one"},"mark":{"type":"text","color":"#131722"},
"encoding":{"x":{"datum":{"year":2013,"month":9,"date":22,"utc":true},"type":"temporal"},"y":{"datum":84,"type":"quantitative"},"text":{"value":"∅ ∅"}}}
]},
{"width":655,"height":34,"data":{"name":"m"},
"layer":[
{"mark":{"type":"bar","width":4,"clip":true,"opacity":0.92},
"encoding":{"x":{"field":"d","type":"temporal","scale":{"type":"utc","domain":[{"year":2012,"month":5,"date":24,"utc":true},{"year":2023,"month":10,"date":9,"utc":true}]},
"axis":{"orient":"bottom","values":[{"year":2013,"month":1,"date":1,"utc":true},{"year":2014,"month":1,"date":1,"utc":true},{"year":2015,"month":1,"date":1,"utc":true},{"year":2016,"month":1,"date":1,"utc":true},{"year":2017,"month":1,"date":1,"utc":true},{"year":2018,"month":1,"date":1,"utc":true},{"year":2019,"month":1,"date":1,"utc":true},{"year":2020,"month":1,"date":1,"utc":true},{"year":2021,"month":1,"date":1,"utc":true},{"year":2022,"month":1,"date":1,"utc":true},{"year":2023,"month":1,"date":1,"utc":true},{"year":2023,"month":8,"date":1,"utc":true}],"tickCount":30,
"labelExpr":"utcFormat(datum.value, '%m') === '08' ? 'Aug' : utcFormat(datum.value, '%Y')","labelPadding":5,"grid":false}},
"y":{"field":"vol","type":"quantitative","scale":{"domain":[-0.058,1.908],"nice":false,"zero":false},
"axis":{"orient":"right","values":[0,1],"tickCount":10,"labelExpr":"datum.value === 0 ? '0' : '1B'","grid":false,"labelOverlap":false}},
"color":{"field":"kind","type":"nominal","scale":{"domain":["base","alert","down","up"],"range":["#787b86","#2196f3","#f7525f","#4caf50"]},"legend":null}}},
{"data":{"name":"one"},"mark":{"type":"text","color":"#131722","fontSize":4.4},
"encoding":{"x":{"datum":{"year":2012,"month":6,"date":12,"utc":true},"type":"temporal"},"y":{"datum":1.47,"type":"quantitative"},"text":{"value":"Simple Volume"}}},
{"data":{"name":"one"},"mark":{"type":"text","color":"#787b86","fontSize":4.4},
"encoding":{"x":{"datum":{"year":2012,"month":12,"date":19,"utc":true},"type":"temporal"},"y":{"datum":1.47,"type":"quantitative"},"text":{"value":"1.155B"}}}
]}
]}
